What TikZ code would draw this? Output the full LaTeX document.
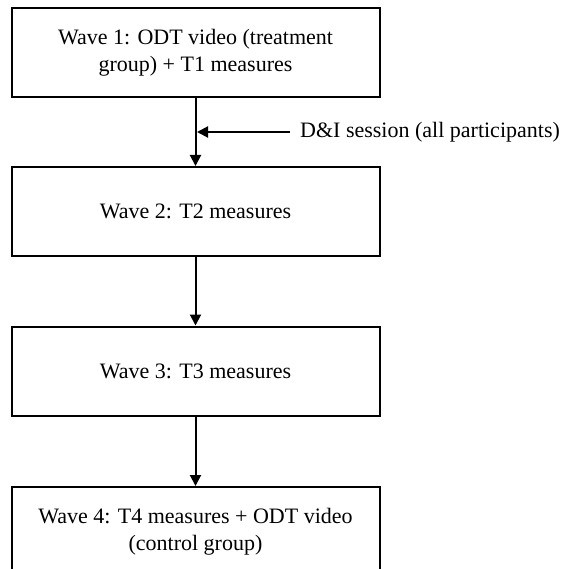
\documentclass[tikz,border=0pt]{standalone}
\usepackage{fontspec}
\setmainfont{Liberation Serif}
\usetikzlibrary{positioning,arrows.meta}

\begin{document}
\begin{tikzpicture}[x=1pt, y=1pt,
    wave/.style={draw, line width=2pt, minimum width=368pt, minimum height=89pt,
        align=center, font=\fontsize{22}{27.5}\selectfont},
    flow/.style={-{Triangle[length=11pt,width=11pt]}, line width=2pt}]
    \useasboundingbox (0,0) rectangle (567,-569);
    \clip (0,0) rectangle (567,-569);

    % Four waves, top to bottom
    \node[wave] (w1) at (195.5,-52.5) {Wave 1: ODT video (treatment\\group) + T1 measures};
    \node[wave] (w2) at (195.5,-211.5) {Wave 2: T2 measures};
    \node[wave] (w3) at (195.5,-371) {Wave 3: T3 measures};
    \node[wave] (w4) at (195.5,-531.5) {Wave 4: T4 measures + ODT video\\(control group)};

    % Arrows between the waves
    \draw[flow] (w1) -- (w2);
    \draw[flow] (w2) -- (w3);
    \draw[flow] (w3) -- (w4);

    % D&I session joins the first arrow
    \node[font=\fontsize{22}{27.5}\selectfont, anchor=west, inner sep=10pt] (dni) at (290,-132) {D\&I session (all participants)};
    \coordinate (join) at (197,-132);
    \draw[flow] (dni.west) -- (join);
\end{tikzpicture}
\end{document}
